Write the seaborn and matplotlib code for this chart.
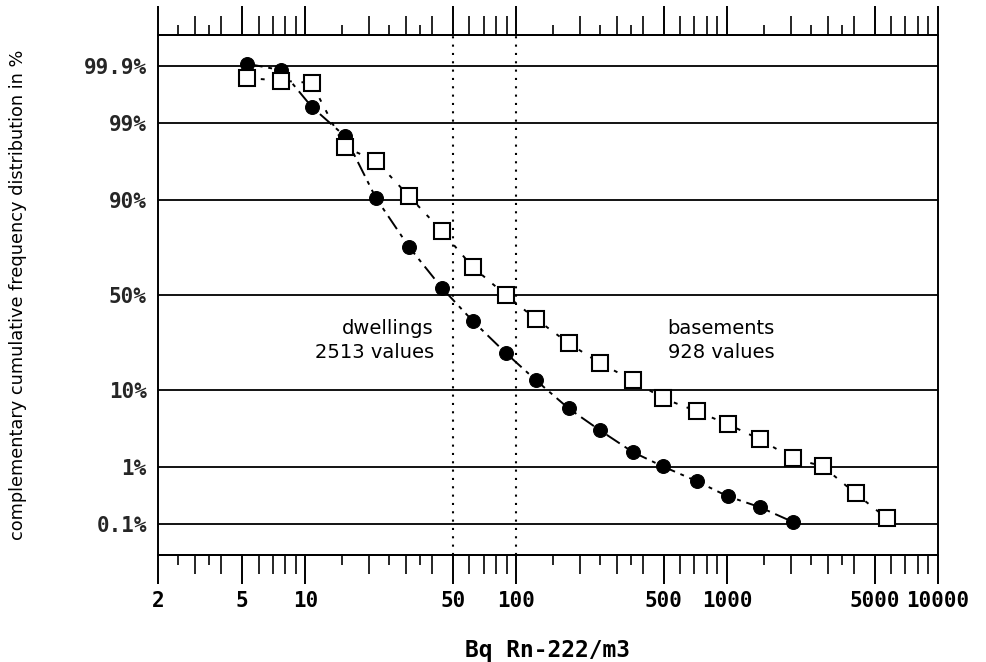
import numpy as np
import pandas as pd
import matplotlib
matplotlib.use("Agg")
from matplotlib import pyplot as plt
from matplotlib.ticker import FixedLocator, NullLocator, NullFormatter
import seaborn as sns
from statistics import NormalDist

# Bin centres (Bq Rn-222/m3) and complementary cumulative frequency in %
dwell_bq = [5.3, 7.7, 10.7, 15.4, 21.6, 31, 44.4, 62.2, 89.2, 124, 177, 249,
            357, 494, 716, 1005, 1426, 2044]
dwell_pct = [99.91, 99.88, 99.45, 98.4, 90.5, 74.2, 53.8, 36.3, 21.7, 12.5,
             6.3, 3.4, 1.7, 1.04, 0.60, 0.33, 0.21, 0.11]

base_bq = [5.3, 7.7, 10.7, 15.4, 21.6, 31, 44.4, 62.2, 89.2, 124, 177, 249,
           357, 494, 716, 1005, 1426, 2044, 2836, 4064, 5702]
base_pct = [99.83, 99.81, 99.79, 97.7, 96.5, 90.9, 80.6, 64.7, 50, 37.3, 25.8,
            17.9, 12.5, 8.2, 5.85, 4.07, 2.58, 1.38, 1.04, 0.37, 0.13]

y_ticks = [0.1, 1, 10, 50, 90, 99, 99.9]
y_labels = ["0.1%", "1%", "10%", "50%", "90%", "99%", "99.9%"]
x_major = [2, 5, 10, 50, 100, 500, 1000, 5000, 10000]
x_labels = ["2", "5", "10", "50", "100", "500", "1000", "5000", "10000"]
ref_lines = [50, 100]

dwell_df = pd.DataFrame({"bq": dwell_bq, "pct": dwell_pct})
base_df = pd.DataFrame({"bq": base_bq, "pct": base_pct})

# normal probability scale for the y axis
nd = NormalDist()


def probit(p):
    p = np.clip(np.asarray(p, dtype=float) / 100.0, 1e-12, 1 - 1e-12)
    return np.vectorize(nd.inv_cdf, otypes=[float])(p)


def inv_probit(z):
    return np.vectorize(nd.cdf, otypes=[float])(np.asarray(z, dtype=float)) * 100.0


sns.set_style("white")
plt.rcParams["font.family"] = ["DejaVu Sans"]
plt.rcParams["text.color"] = "black"
plt.rcParams["axes.labelcolor"] = "black"
tick_font = {"family": "DejaVu Sans Mono", "weight": "bold", "size": 15}

fig = plt.figure(figsize=(9.86, 6.62), dpi=100)
ax = fig.add_axes([0.1602, 0.1616, 0.7911, 0.7855])

sns.lineplot(data=dwell_df, x="bq", y="pct", ax=ax, color="black", lw=1.4,
             linestyle=(0, (8, 3, 2, 3)), marker="o", markersize=10,
             markerfacecolor="black", markeredgecolor="black", zorder=4)
sns.lineplot(data=base_df, x="bq", y="pct", ax=ax, color="black", lw=1.4,
             linestyle=(0, (2, 5)), marker="s", markersize=11.5,
             markerfacecolor="white", markeredgecolor="black",
             markeredgewidth=1.5, zorder=5)

ax.set_xscale("log")
ax.set_yscale("function", functions=(probit, inv_probit))
ax.set_xlim(2, 10000)
ax.set_ylim(inv_probit(-3.51), inv_probit(3.51))

# horizontal grid at the probability levels, dotted reference lines
for p in y_ticks:
    ax.axhline(p, color="black", lw=1.3, zorder=1)
for v in ref_lines:
    ax.axvline(v, color="black", lw=1.5, ls=(0, (1, 3)), zorder=1)

ax.set_yticks(y_ticks)
ax.set_yticklabels(y_labels, fontdict=tick_font)
ax.yaxis.set_minor_locator(NullLocator())
ax.tick_params(axis="y", length=0, pad=8)

medium = [d * m for d in (1, 10, 100, 1000) for m in (2, 3, 4, 6, 7, 8, 9)]
medium = [m for m in medium if 2 < m < 10000]
short = [d * m for d in (1, 10, 100, 1000) for m in (1.5, 2.5, 3.5)]
short = [s for s in short if 2 < s < 10000]

ax.xaxis.set_major_locator(FixedLocator(x_major))
ax.set_xticklabels(x_labels, fontdict=tick_font)
ax.xaxis.set_minor_locator(FixedLocator(medium))
ax.xaxis.set_minor_formatter(NullFormatter())
ax.tick_params(axis="x", which="major", direction="out", length=21, width=1.4,
               top=True, bottom=True, pad=5, colors="black")
ax.tick_params(axis="x", which="minor", direction="out", length=14, width=1.4,
               top=True, bottom=True)

for loc in ("bottom", "top"):
    sec = ax.secondary_xaxis(loc)
    sec.set_xticks(short)
    sec.xaxis.set_minor_locator(NullLocator())
    sec.xaxis.set_major_formatter(NullFormatter())
    sec.tick_params(direction="out", length=7, width=1.4)
    for s in sec.spines.values():
        s.set_linewidth(1.4)

for s in ax.spines.values():
    s.set_visible(True)
    s.set_color("black")
    s.set_linewidth(1.4)

ax.set_xlabel("Bq Rn-222/m3", fontfamily="DejaVu Sans Mono", fontweight="bold",
              fontsize=16.5, labelpad=20)
ax.set_ylabel("complementary cumulative frequency distribution in %",
              fontsize=12.8)
ax.yaxis.set_label_coords(-0.168, 0.5)

ax.text(40.6, 27, "dwellings\n2513 values", ha="right", va="center",
        multialignment="right", fontsize=14, linespacing=1.35)
ax.text(522, 27, "basements\n928 values", ha="left", va="center",
        multialignment="left", fontsize=14, linespacing=1.35)

fig.savefig("out.png", dpi=100)
